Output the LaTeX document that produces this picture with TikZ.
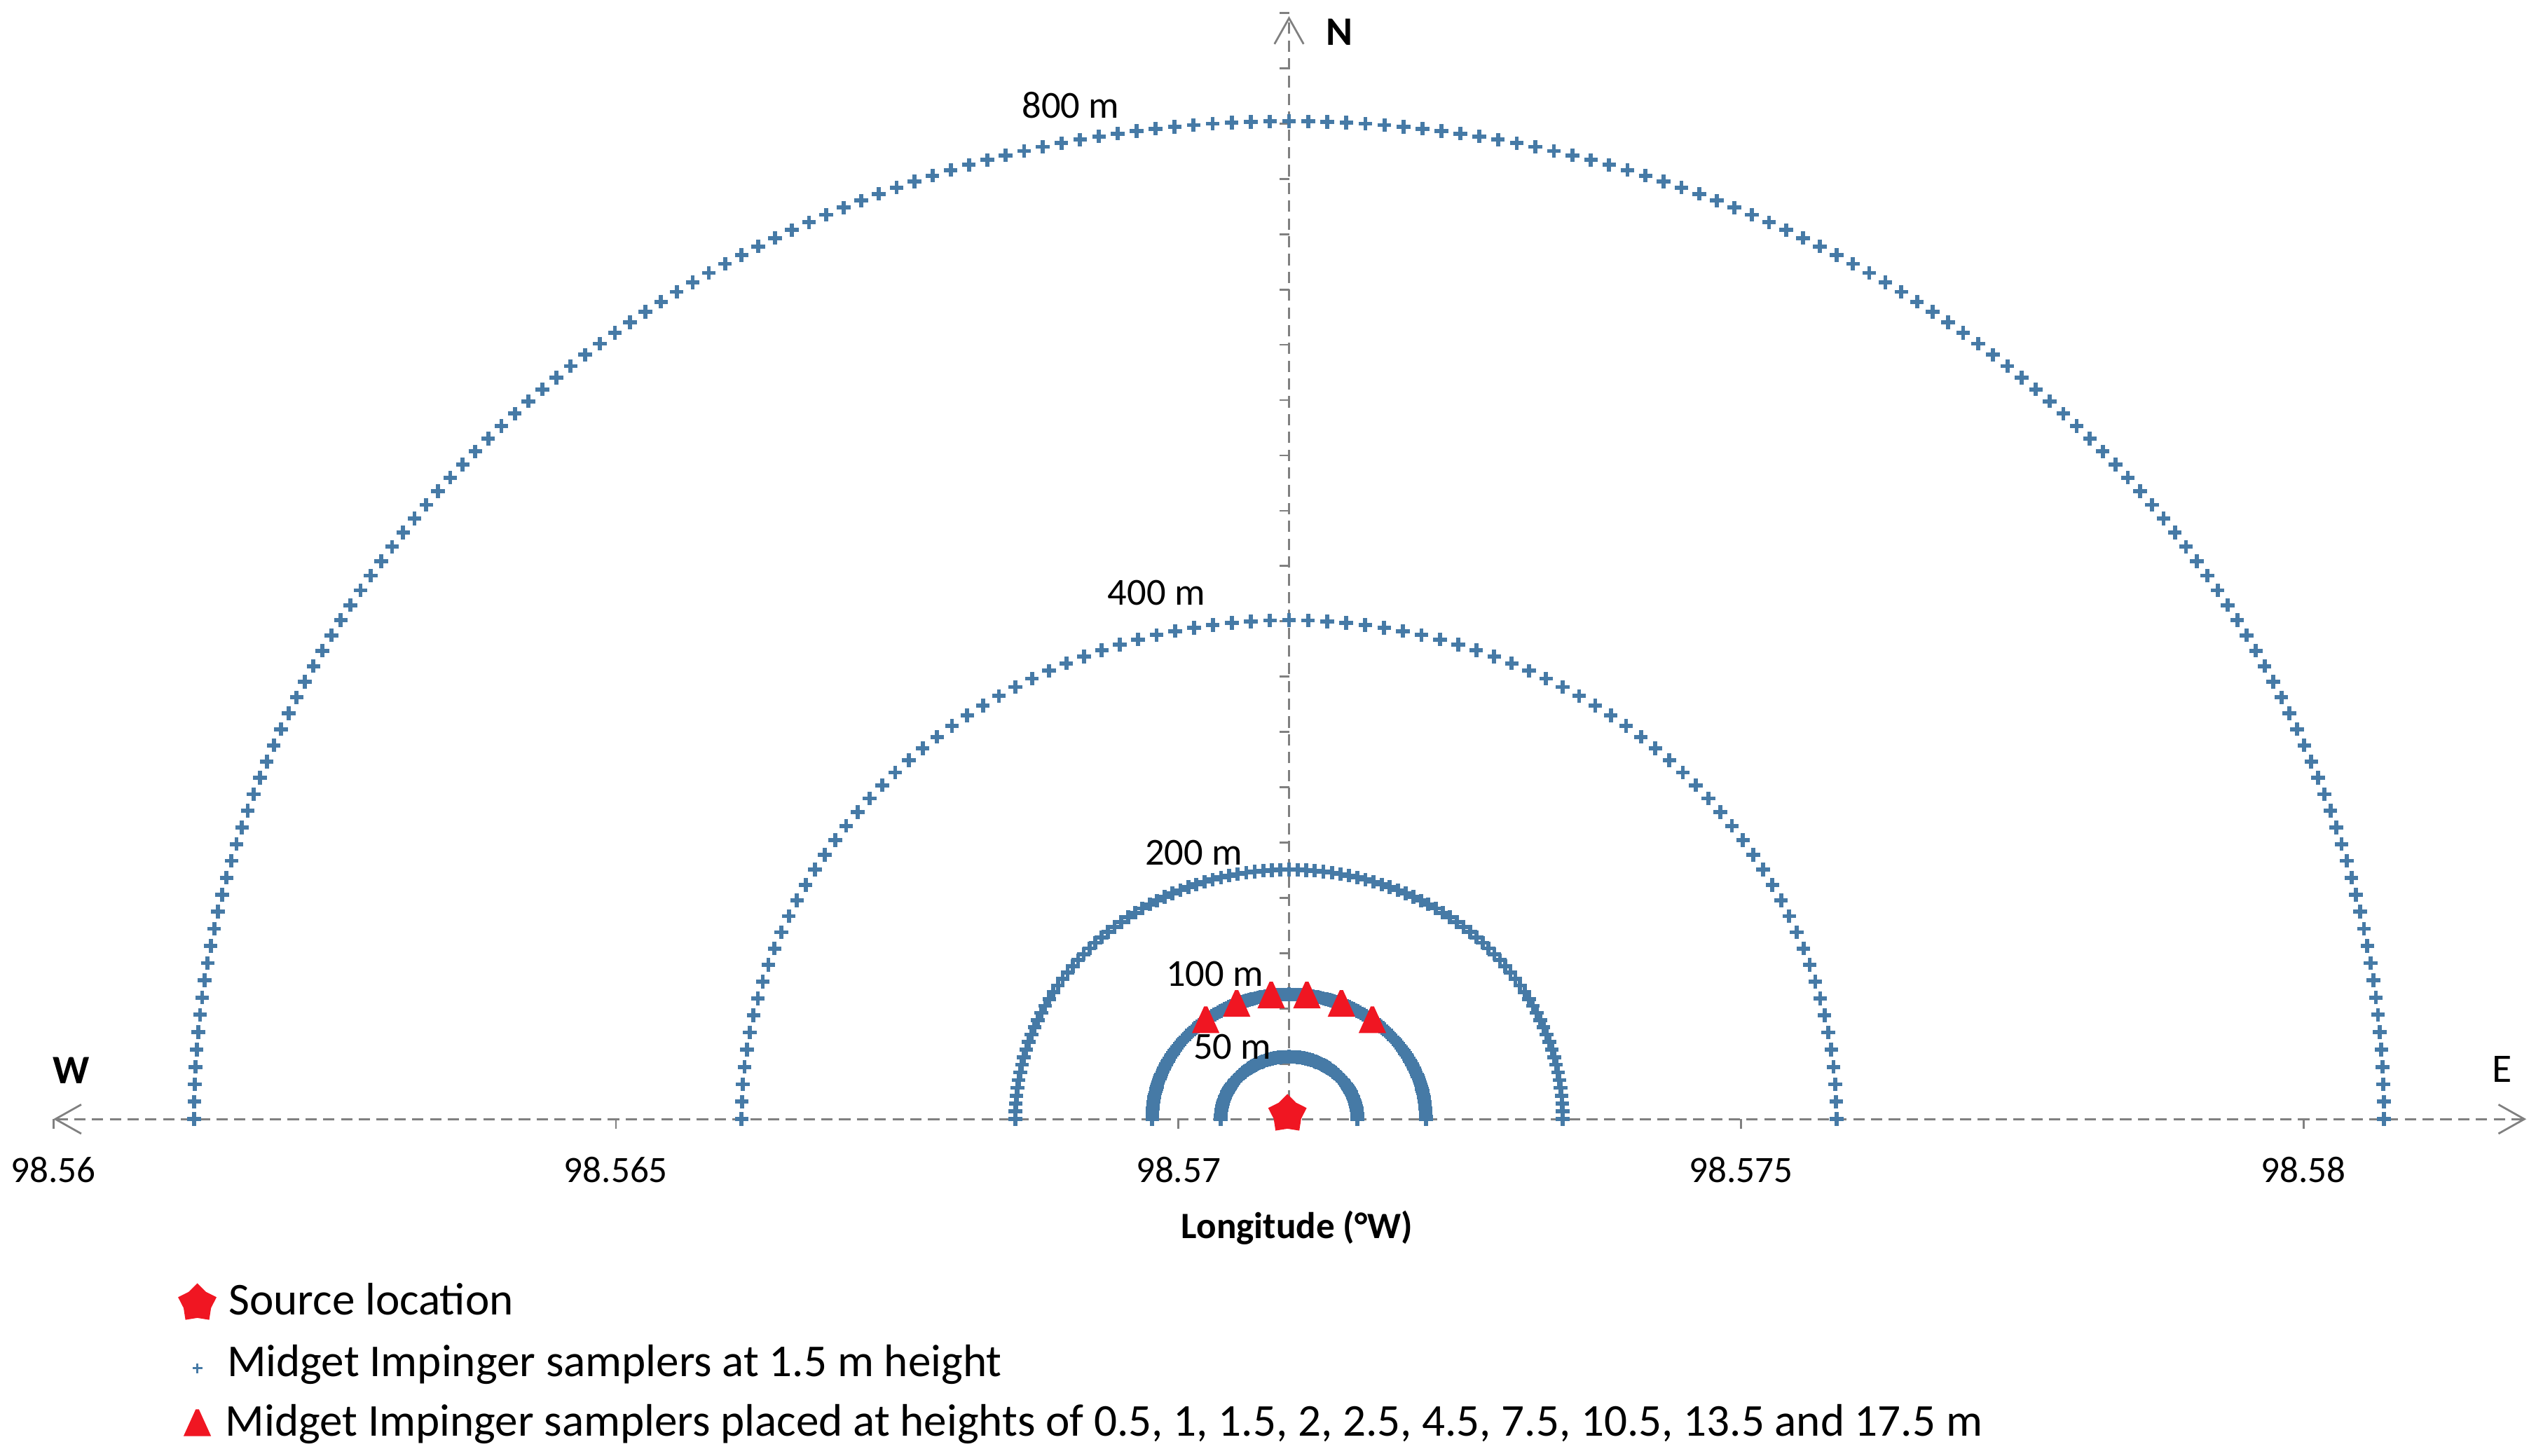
\documentclass[tikz,border=0pt]{standalone}
\usepackage{fontspec}
\setmainfont{Carlito}
\usetikzlibrary{arrows.meta,shapes.geometric}
\definecolor{mkblue}{RGB}{70,122,166}
\definecolor{mkred}{RGB}{240,22,34}
\definecolor{axgray}{RGB}{128,128,128}
\tikzset{
  axisline/.style={draw=axgray, line width=0.6pt, dash pattern=on 3.5pt off 2pt},
  axtick/.style={draw=axgray, line width=0.6pt},
  ticklbl/.style={font=\fontsize{11.5}{13}\selectfont, anchor=base, inner sep=0pt},
  arclbl/.style={font=\fontsize{11.8}{13}\selectfont, anchor=base, inner sep=0pt},
  dirlbl/.style={font=\fontsize{12.5}{14}\selectfont, anchor=base, inner sep=0pt},
  leglbl/.style={font=\fontsize{14.1}{16}\selectfont, anchor=base west, inner sep=0pt},
  srcstar/.style={star, star points=5, star point ratio=1.4, minimum size=12.5pt, inner sep=0pt, fill=mkred, draw=none},
  pplus/.pic={\draw[mkblue, line width=1.25pt] (-4.2,0) -- (4.2,0) (0,-4.2) -- (0,4.2);},
  pplussmall/.pic={\draw[mkblue, line width=0.8pt] (-3,0) -- (3,0) (0,-3) -- (0,3);},
  ptri/.pic={\fill[mkred] (-8.5,8) -- (-1,-8.5) -- (1,-8.5) -- (8.5,8) -- cycle;}
}
\begin{document}
\begin{tikzpicture}[x=0.5pt,y=-0.5pt]
\useasboundingbox[fill=white] (0,0) rectangle (1568,900);

% axes
\coordinate (O) at (797,692);
\coordinate (Wend) at (33,692);
\coordinate (Eend) at (1562,692);
\coordinate (Nend) at (797,10);
\draw[axisline, {Straight Barb[length=8pt,width=9pt]}-{Straight Barb[length=8pt,width=9pt]}] (Wend) -- (Eend);
\draw[axisline, -{Straight Barb[length=8pt,width=9pt]}] (O) -- (Nend);

% ticks on vertical axis
\foreach \k in {1,...,20}{
  \draw[axtick] (797,692-34.2*\k) -- (791,692-34.2*\k);
}
% ticks on horizontal axis and labels
\foreach \k/\lab in {0/98.56,1/98.565,2/98.57,3/98.575,4/98.58}{
  \draw[axtick] (33+347.8*\k,692) -- (33+347.8*\k,698);
  \node[ticklbl] (tl\k) at (33+347.8*\k,731) {\lab};
}
\node[ticklbl, font=\fontsize{11.5}{13}\selectfont\bfseries] (xlab) at (802,766) {Longitude (°W)};

% direction labels
\node[dirlbl, font=\fontsize{12.5}{14}\selectfont\bfseries] (lblN) at (828,28) {N};
\node[dirlbl, font=\fontsize{12.5}{14}\selectfont\bfseries] (lblW) at (44,670) {W};
\node[dirlbl] (lblE) at (1547,669) {E};

% sampler arcs
\foreach \R/\N in {800/180, 400/90, 200/100, 100/180, 50/150}{
  \pgfmathsetmacro\stp{180/\N}
  \foreach \i in {0,...,\N}{
    \pgfmathsetmacro\ang{\i*\stp}
    \pgfmathsetmacro\px{797+0.84625*\R*cos(\ang)}
    \pgfmathsetmacro\py{692-0.77125*\R*sin(\ang)}
    \pic at (\px,\py) {pplus};
  }
}

% arc labels
\node[arclbl] (l800) at (662,73) {800 m};
\node[arclbl] (l400) at (715,374) {400 m};
\node[arclbl] (l200) at (738,535) {200 m};
\node[arclbl] (l100) at (751,610) {100 m};
\node[arclbl] (l50) at (762,655) {50 m};

% elevated samplers (triangles) on the 100 m arc
\foreach \a in {52.5,67.5,82.5,97.5,112.5,127.5}{
  \pgfmathsetmacro\px{797+0.84625*100*cos(\a)}
  \pgfmathsetmacro\py{692-0.77125*100*sin(\a)}
  \pic at (\px,\py) {ptri};
}

% source
\node[srcstar] (src) at (796,689) {};

% legend
\node[srcstar] (legstar) at (122,806) {};
\node[leglbl] (legt1) at (141,813) {Source location};
\pic at (122,846) {pplussmall};
\node[leglbl] (legt2) at (140,851) {Midget Impinger samplers at 1.5 m height};
\pic at (122,880) {ptri};
\node[leglbl] (legt3) at (139,888) {Midget Impinger samplers placed at heights of 0.5, 1, 1.5, 2, 2.5, 4.5, 7.5, 10.5, 13.5 and 17.5 m};
\end{tikzpicture}
\end{document}
